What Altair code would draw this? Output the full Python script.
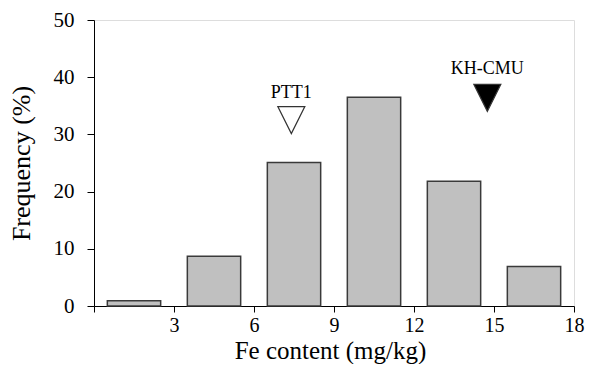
import altair as alt
import pandas as pd

# Histogram bins (mg/kg) and frequencies (%)
bin_start = [0.5, 3.5, 6.5, 9.5, 12.5, 15.5]
bin_end = [2.5, 5.5, 8.5, 11.5, 14.5, 17.5]
freq = [0.9, 8.7, 25.1, 36.5, 21.8, 6.9]

# Marker annotations
marker_names = ["PTT1", "KH-CMU"]
marker_x = [7.4, 14.75]
marker_y = [32.5, 36.4]
label_y = [37.2, 41.4]
marker_fill = ["white", "black"]

FONT = "Liberation Serif, Times New Roman, serif"

bars_df = pd.DataFrame({"start": bin_start, "end": bin_end, "freq": freq})
mk_df = pd.DataFrame({"name": marker_names, "x": marker_x, "y": marker_y,
                      "ly": label_y, "fill": marker_fill})

xscale = alt.Scale(domain=[0, 18], nice=False, zero=False)
yscale = alt.Scale(domain=[0, 50], nice=False)

xaxis = alt.Axis(values=[0, 3, 6, 9, 12, 15, 18],
                 labelExpr="datum.value == 0 ? '' : datum.label",
                 grid=False, tickSize=6, tickColor="black", domainColor="black",
                 labelFont=FONT, labelFontSize=20, labelColor="black",
                 labelPadding=3, labelFlush=False,
                 title="Fe content (mg/kg)", titleFont=FONT, titleFontSize=25,
                 titleFontWeight="normal", titleColor="black",
                 titleX=236, titleY=52, titleBaseline="alphabetic")
yaxis = alt.Axis(values=[0, 10, 20, 30, 40, 50], grid=False, tickSize=7,
                 tickColor="black", domainColor="black",
                 labelFont=FONT, labelFontSize=21, labelColor="black",
                 labelPadding=13, labelFlush=False,
                 title="Frequency (%)", titleFont=FONT, titleFontSize=26,
                 titleFontWeight="normal", titleColor="black",
                 titleX=-73, titleY=143, titleBaseline="middle", titleAngle=-90)

bars = alt.Chart(bars_df).mark_rect(fill="#c0c0c0", stroke="#3a3a3a",
                                    strokeWidth=1.5).encode(
    x=alt.X("start:Q", scale=xscale, axis=xaxis),
    x2="end:Q",
    y=alt.Y("freq:Q", scale=yscale, axis=yaxis),
    y2=alt.datum(0),
)

tri = alt.Chart(mk_df).mark_point(
    shape="M-1,-1L1,-1L0,1Z", size=729, filled=True, stroke="#333333",
    strokeWidth=1.2, opacity=1,
).encode(
    x=alt.X("x:Q", scale=xscale),
    y=alt.Y("y:Q", scale=yscale),
    fill=alt.Fill("fill:N", scale=None),
)

labels = alt.Chart(mk_df).mark_text(font=FONT, fontSize=18, color="black",
                                    baseline="middle").encode(
    x=alt.X("x:Q", scale=xscale),
    y=alt.Y("ly:Q", scale=yscale),
    text="name:N",
)

chart = alt.layer(bars, tri, labels).properties(
    width=480, height=286,
    autosize=alt.AutoSizeParams(type="none"),
    padding={"left": 86, "top": 12, "right": 12, "bottom": 58},
).configure_view(stroke=None).configure(background="white")

chart.save("out.html", embed_options={"renderer": "svg", "actions": False})
